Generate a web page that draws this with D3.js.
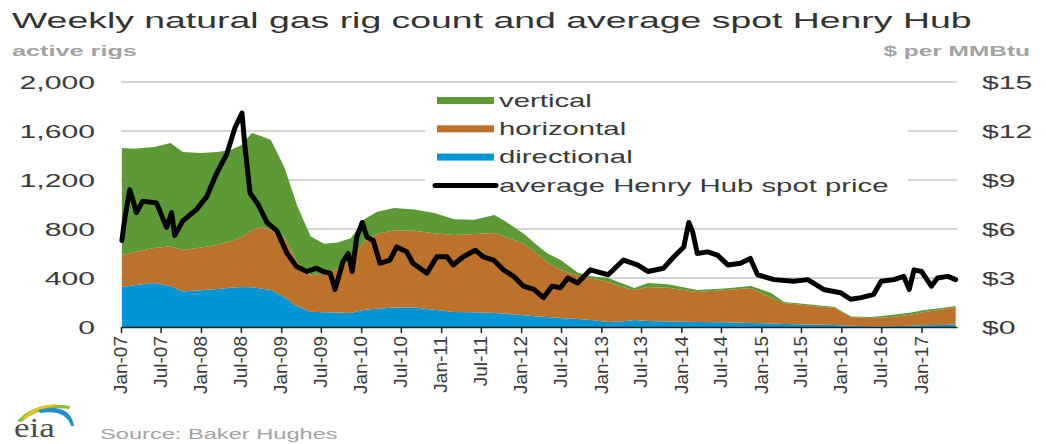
<!DOCTYPE html>
<html>
<head>
<meta charset="utf-8">
<script src="https://cdnjs.cloudflare.com/ajax/libs/d3/7.8.5/d3.min.js"></script>
<style>
  body { margin: 0; background: #fff; }
  svg { display: block; font-family: Arial, "Liberation Sans", sans-serif; }
</style>
</head>
<body>
<svg id="chart" width="1046" height="444"></svg>
<script>
//-----------------------------------------------------//

// Rig counts by drilling type (roughly weekly/monthly)
const rigDates = [
  "2007-01-05","2007-03-01","2007-06-01","2007-08-15","2007-10-10","2008-01-01","2008-03-15","2008-05-15",
  "2008-07-05","2008-08-20","2008-10-01","2008-11-15","2009-01-15","2009-03-15","2009-05-15","2009-07-15",
  "2009-09-15","2009-11-15","2010-01-15","2010-03-15","2010-06-01","2010-09-01","2010-12-01","2011-03-01",
  "2011-06-01","2011-09-01","2011-10-15","2012-01-15","2012-03-15","2012-05-01","2012-07-01","2012-09-15",
  "2012-11-15","2013-02-01","2013-04-01","2013-06-01","2013-08-01","2013-11-01","2014-03-15","2014-07-15",
  "2014-11-15","2015-02-15","2015-04-15","2015-08-01","2015-12-01","2016-02-15","2016-05-15","2016-08-15",
  "2016-11-15","2017-01-15","2017-04-15","2017-06-06"
];
const directional = [
  327, 340, 359, 335, 290, 300, 310, 320, 327, 325, 315, 302, 245, 170, 125, 120,
  118, 114, 140, 150, 160, 160, 140, 122, 120, 114, 110, 95, 85, 82, 73, 65,
  57, 41, 45, 57, 50, 45, 41, 38, 33, 28, 25, 20, 16, 10, 6, 7,
  10, 14, 17, 20
];
const horizontal = [
  261, 270, 286, 325, 338, 350, 359, 380, 408, 465, 501, 488, 490, 360, 295, 320,
  352, 426, 560, 610, 630, 625, 625, 629, 640, 653, 630, 585, 515, 443, 392, 355,
  338, 326, 285, 245, 277, 275, 245, 262, 285, 209, 171, 155, 139, 72, 67, 75,
  90, 108, 128, 143
];
const vertical = [
  873, 845, 825, 842, 801, 770, 760, 745, 751, 794, 744, 737, 571, 460, 320, 240,
  220, 185, 180, 180, 181, 175, 166, 129, 115, 147, 130, 80, 65, 75, 80, 25,
  20, 33, 30, 16, 32, 30, 16, 15, 17, 41, 8, 10, 8, 3, 9, 16,
  18, 17, 12, 8
];

// Henry Hub weekly average spot price, $/MMBtu
const priceDates = [
  "2007-01-05","2007-01-19","2007-02-10","2007-02-24","2007-03-12","2007-04-10","2007-06-12","2007-07-28",
  "2007-08-20","2007-09-03","2007-10-10","2007-12-12","2008-01-28","2008-03-12","2008-04-28","2008-06-04",
  "2008-07-06","2008-07-20","2008-08-12","2008-09-18","2008-10-28","2008-12-12","2009-01-28","2009-03-12",
  "2009-04-28","2009-06-12","2009-07-10","2009-08-12","2009-09-04","2009-10-10","2009-11-03","2009-11-21",
  "2009-12-12","2010-01-06","2010-01-28","2010-02-25","2010-03-28","2010-05-12","2010-06-12","2010-07-28",
  "2010-08-25","2010-10-28","2010-12-12","2011-01-28","2011-02-25","2011-04-12","2011-06-06","2011-07-12",
  "2011-08-28","2011-10-12","2011-11-28","2012-01-12","2012-02-28","2012-04-12","2012-05-21","2012-06-28",
  "2012-08-01","2012-09-15","2012-11-12","2013-02-01","2013-04-12","2013-06-15","2013-08-01","2013-10-12",
  "2013-11-28","2014-01-12","2014-02-04","2014-02-22","2014-03-15","2014-05-01","2014-06-15","2014-08-01",
  "2014-09-28","2014-11-12","2014-12-15","2015-02-28","2015-05-28","2015-08-01","2015-10-12","2015-12-28",
  "2016-02-12","2016-04-01","2016-05-28","2016-07-01","2016-08-28","2016-10-12","2016-11-06","2016-11-28",
  "2017-01-01","2017-02-15","2017-03-15","2017-05-01","2017-06-06"
];
const prices = [
  5.3, 6.7, 8.4, 7.8, 7.0, 7.7, 7.6, 6.1,
  7.0, 5.6, 6.5, 7.2, 8.0, 9.4, 10.6, 12.2,
  13.1, 11.0, 8.2, 7.5, 6.4, 5.9, 4.5, 3.7,
  3.4, 3.6, 3.4, 3.3, 2.3, 4.0, 4.5, 3.4,
  5.5, 6.4, 5.5, 5.3, 3.9, 4.1, 4.9, 4.6,
  3.9, 3.3, 4.3, 4.3, 3.8, 4.3, 4.7, 4.3,
  4.1, 3.5, 3.1, 2.5, 2.3, 1.8, 2.5, 2.4,
  3.0, 2.7, 3.5, 3.2, 4.1, 3.8, 3.4, 3.6,
  4.3, 4.9, 6.4, 5.8, 4.5, 4.6, 4.4, 3.8,
  3.9, 4.2, 3.2, 2.9, 2.8, 2.9, 2.3, 2.1,
  1.7, 1.8, 2.0, 2.8, 2.9, 3.1, 2.3, 3.5,
  3.4, 2.5, 3.0, 3.1, 2.9
];

// Axes + legend
const leftTicks = [0, 400, 800, 1200, 1600, 2000];
const rightTicks = [0, 3, 6, 9, 12, 15];
const seriesKeys = ["directional", "horizontal", "vertical"];
const legendLabels = ["vertical", "horizontal", "directional", "average Henry Hub spot price"];

//-----------------------------------------------------//

const SX = 1.63;   // the reference is stretched sideways, so is the horizontal text
const colors = { vertical: "#5b9a35", horizontal: "#bd722b", directional: "#0096d6" };
const textColor = "#3a3a3a";
const greyText = "#a3a3a3";

const svg = d3.select("#chart");
const parse = d3.timeParse("%Y-%m-%d");

// placing text with the sideways stretch
function place(sel, x, y, sx) {
  return sel.attr("transform", `translate(${x},${y}) scale(${sx || SX},1)`);
}

// Scales
const x = d3.scaleTime()
  .domain([new Date(2007, 0, 1), new Date(2017, 5, 12)])
  .range([121, 957]);
const yL = d3.scaleLinear().domain([0, 2000]).range([327, 82]);
const yR = d3.scaleLinear().domain([0, 15]).range([327, 82]);

// Titles
place(svg.append("text"), 12, 28, 1.7)
  .attr("font-size", 22).attr("fill", "#333")
  .text("Weekly natural gas rig count and average spot Henry Hub");

place(svg.append("text"), 12, 56)
  .attr("font-size", 15.5).attr("font-weight", "bold").attr("fill", greyText)
  .text("active rigs");

place(svg.append("text"), 1030, 56)
  .attr("font-size", 15).attr("font-weight", "bold").attr("fill", greyText)
  .attr("text-anchor", "end")
  .text("$ per MMBtu");

// Gridlines
svg.append("g").selectAll("line")
  .data(leftTicks.filter(d => d > 0))
  .enter().append("line")
  .attr("x1", 121).attr("x2", 957)
  .attr("y1", d => yL(d)).attr("y2", d => yL(d))
  .attr("stroke", "#c8c8c8").attr("stroke-width", 1.3);

// Stacked areas
const rows = rigDates.map((d, i) => ({
  date: parse(d),
  directional: directional[i],
  horizontal: horizontal[i],
  vertical: vertical[i]
}));
const stacked = d3.stack().keys(seriesKeys)(rows);
const area = d3.area()
  .x(d => x(d.data.date))
  .y0(d => yL(d[0]))
  .y1(d => yL(d[1]));

svg.append("g").selectAll("path")
  .data(stacked)
  .enter().append("path")
  .attr("d", area)
  .attr("fill", d => colors[d.key]);

// Price line
const priceRows = priceDates.map((d, i) => ({ date: parse(d), value: prices[i] }));
svg.append("path")
  .datum(priceRows)
  .attr("fill", "none")
  .attr("stroke", "#000")
  .attr("stroke-width", 5)
  .attr("stroke-linejoin", "round")
  .attr("stroke-linecap", "round")
  .attr("d", d3.line().x(d => x(d.date)).y(d => yR(d.value)));

// Legend (white box sits over the gridlines)
const legend = svg.append("g");
legend.append("rect")
  .attr("x", 425).attr("y", 88).attr("width", 483).attr("height", 110)
  .attr("fill", "#fff");

const legendColors = [colors.vertical, colors.horizontal, colors.directional, "#000"];
legendLabels.forEach((label, i) => {
  let cy = 100.5 + i * 28.3;
  if (i < 3) {
    legend.append("rect")
      .attr("x", 437).attr("y", cy - 3.5).attr("width", 57).attr("height", 7)
      .attr("fill", legendColors[i]);
  } else {
    legend.append("line")
      .attr("x1", 435).attr("x2", 496).attr("y1", cy).attr("y2", cy)
      .attr("stroke", "#000").attr("stroke-width", 5).attr("stroke-linecap", "round");
  }
  place(legend.append("text"), 499, cy + 6.3)
    .attr("font-size", 18).attr("fill", textColor)
    .text(label);
});

// Left axis labels
svg.append("g").selectAll("text")
  .data(leftTicks)
  .enter().append("text")
  .each(function(d) { place(d3.select(this), 95, yL(d) + 6.6); })
  .attr("font-size", 18.5).attr("fill", textColor).attr("text-anchor", "end")
  .text(d => d3.format(",")(d));

// Right axis labels
svg.append("g").selectAll("text")
  .data(rightTicks)
  .enter().append("text")
  .each(function(d) { place(d3.select(this), 982, yR(d) + 6.6); })
  .attr("font-size", 18.5).attr("fill", textColor)
  .text(d => "$" + d);

// X axis with half-year ticks
const tickDates = d3.timeMonth.every(6).range(new Date(2007, 0, 1), new Date(2017, 1, 1));
const xAxis = svg.append("g")
  .attr("transform", "translate(0,327)")
  .call(d3.axisBottom(x).tickValues(tickDates).tickSize(6).tickSizeOuter(0)
    .tickFormat(d3.timeFormat("%b-%y")));

xAxis.select(".domain").attr("stroke", "#222").attr("stroke-width", 1.5);
xAxis.selectAll(".tick line").attr("stroke", "#222").attr("stroke-width", 1.5);
xAxis.selectAll(".tick text")
  .attr("transform", "rotate(-90)")
  .attr("x", -9).attr("y", 0).attr("dy", "0.3em")
  .style("text-anchor", "end")
  .attr("font-size", 19).attr("fill", textColor)
  .attr("font-family", "Arial, 'Liberation Sans', sans-serif");

// Source + eia logo
place(svg.append("text"), 100, 439)
  .attr("font-size", 14.5).attr("fill", greyText)
  .text("Source: Baker Hughes");

const logo = svg.append("g");
logo.append("path")
  .attr("d", "M17,421 Q36,400 70,406 L69,409 Q42,405 21,422 Z")
  .attr("fill", "#8dbb3a");
logo.append("path")
  .attr("d", "M22,418 Q36,405 55,404 L55,406 Q38,408 25,419 Z")
  .attr("fill", "#f0c419");
logo.append("path")
  .attr("d", "M38,410 Q70,402 74,426 L71,426 Q66,409 40,413 Z")
  .attr("fill", "#1f8fd0");
place(logo.append("text"), 14, 437, 1.3)
  .attr("font-family", "'Liberation Serif', 'DejaVu Serif', serif")
  .attr("font-size", 27).attr("fill", "#4d4d4d")
  .text("eia");
</script>
</body>
</html>
